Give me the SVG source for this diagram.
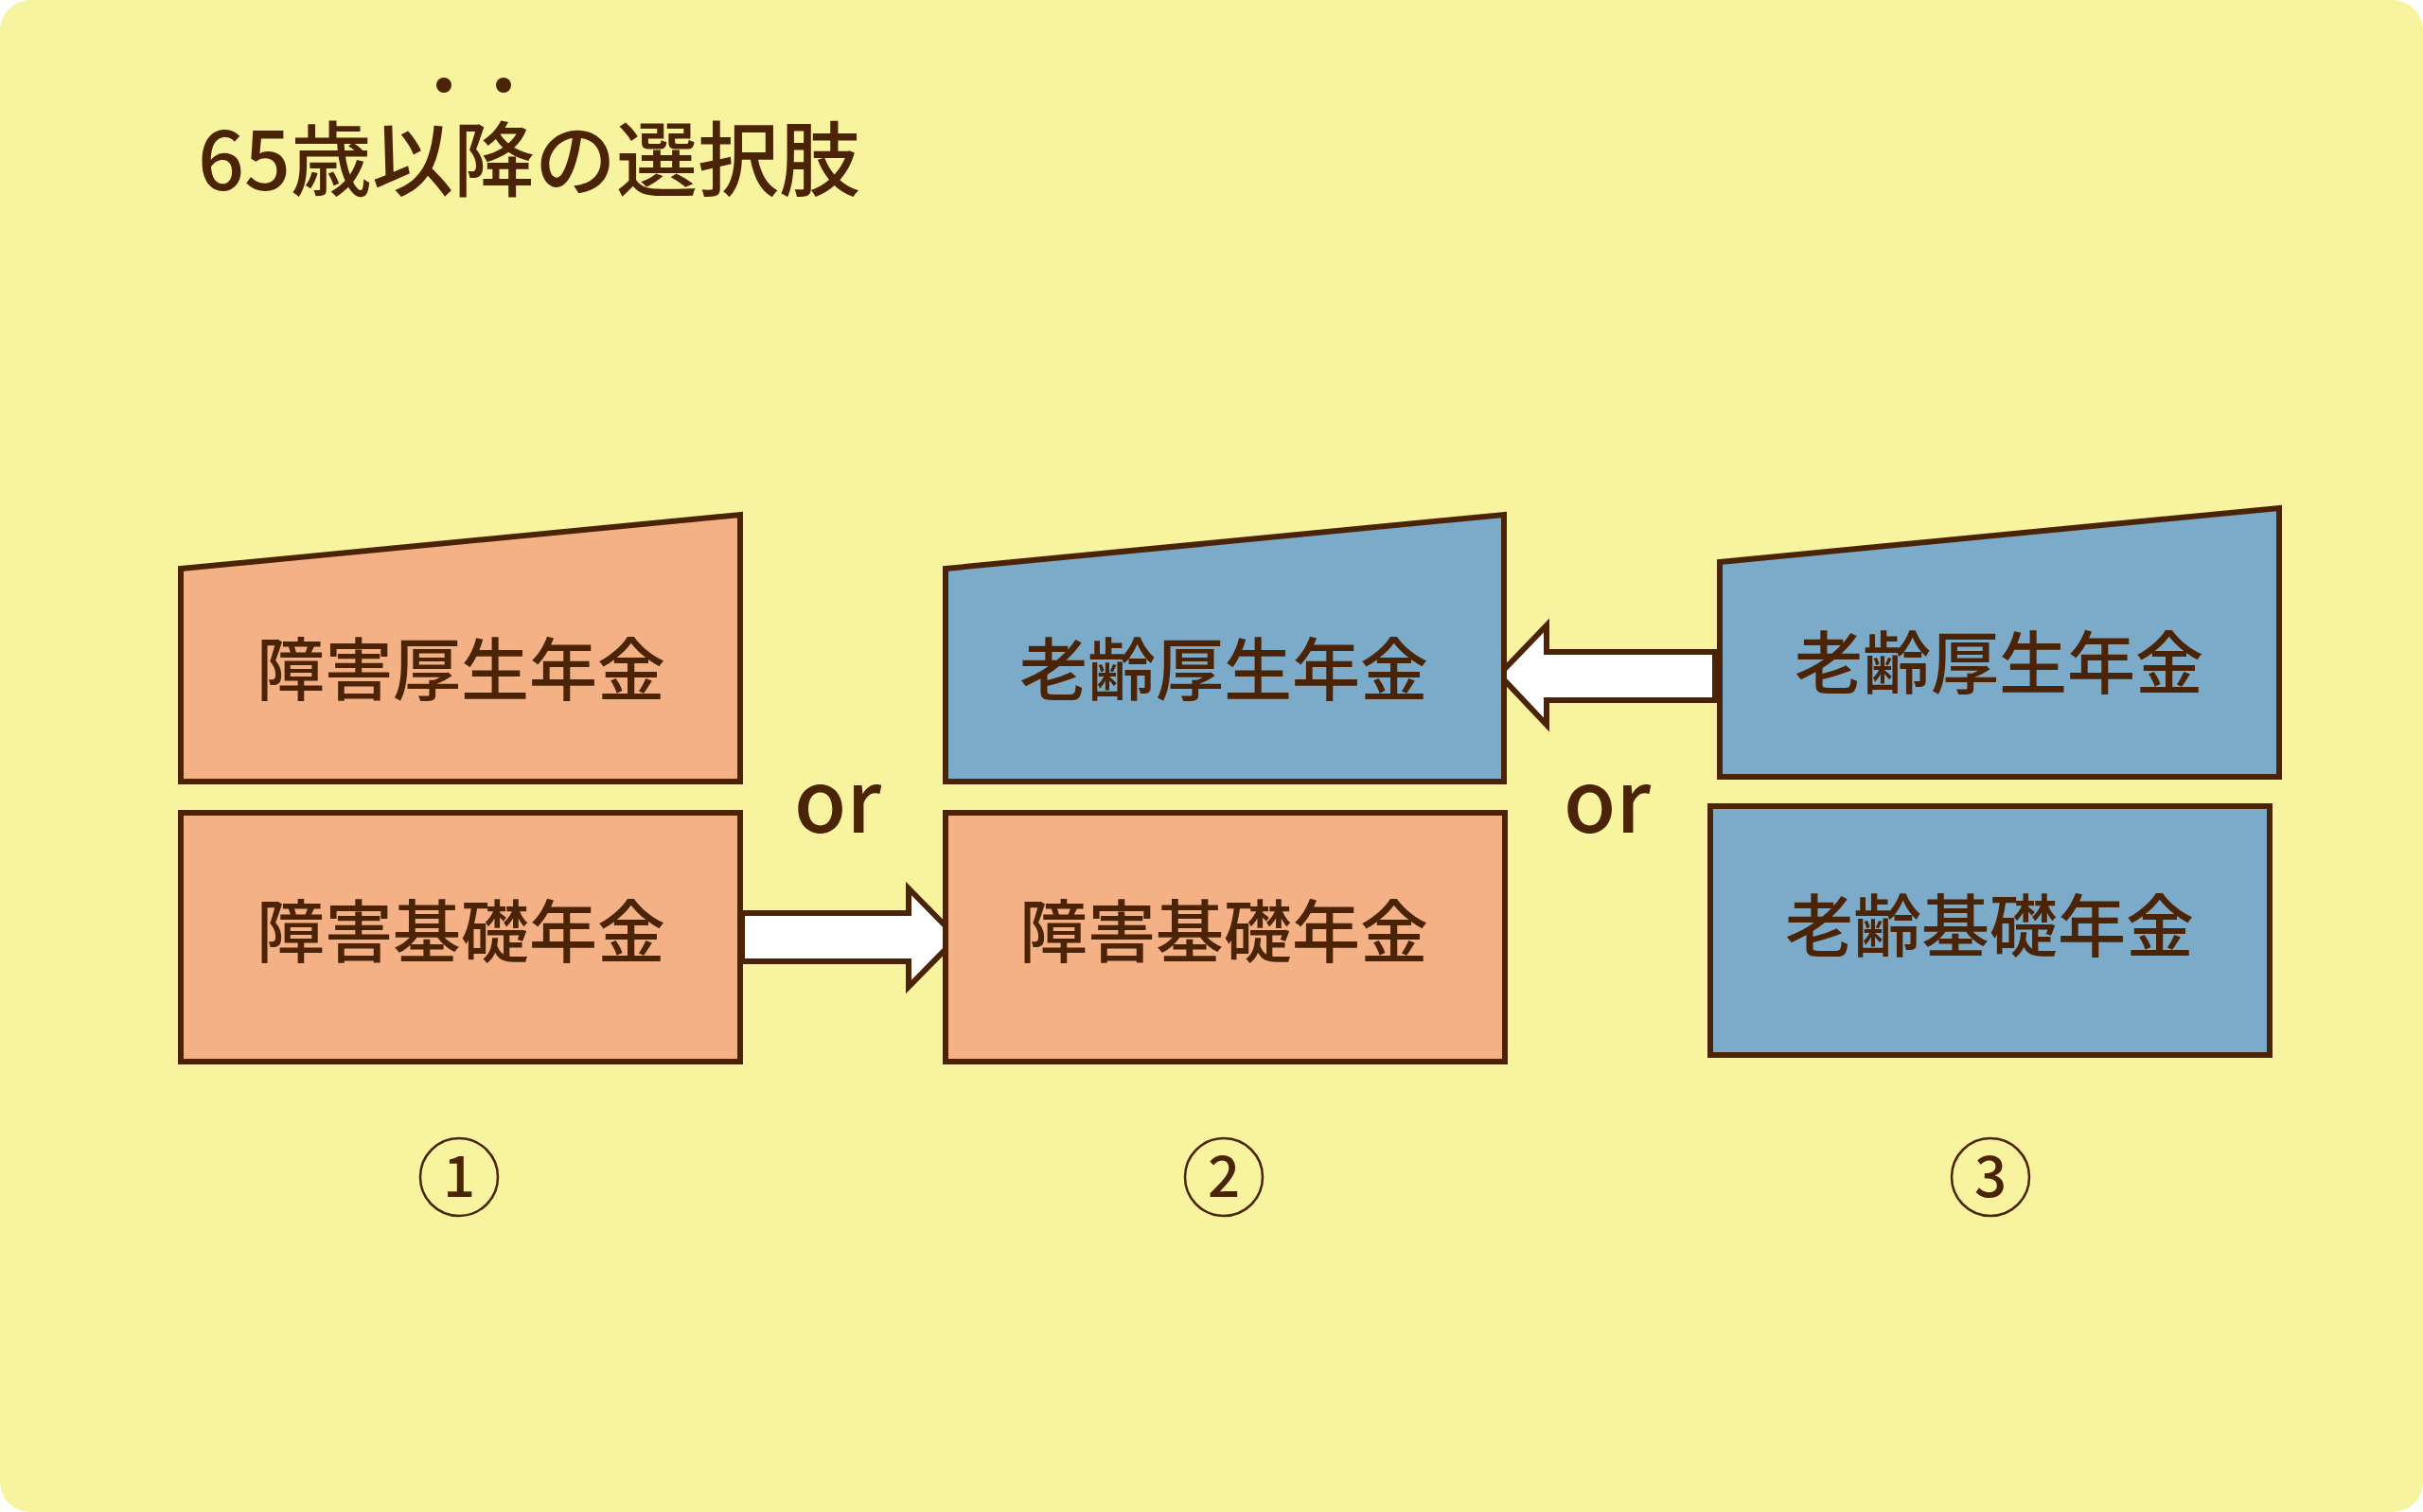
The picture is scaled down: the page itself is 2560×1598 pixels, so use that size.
<svg xmlns="http://www.w3.org/2000/svg" width="2560" height="1598" viewBox="0 0 2560 1598">
<style>
.bx{stroke:#4B2407;stroke-width:6}
.o{fill:#F4B186}.b{fill:#7BABC9}
.t{font-family:"Noto Sans CJK JP","Noto Sans",sans-serif;fill:#4B2407;font-weight:500}
.lb{font-size:72px;text-anchor:middle}
.ar{fill:#fff;stroke:#4B2407;stroke-width:6}
</style>
<rect x="0" y="0" width="2560" height="1598" rx="32" fill="#F8F39F"/>
<g id="title">
<text class="t" x="209" y="201" font-size="86">65歳以降の選択肢</text>
<circle cx="469" cy="90" r="8" fill="#4B2407"/><circle cx="532" cy="90" r="8" fill="#4B2407"/>
</g>
<g id="connectors">
<polygon class="ar" points="784,965 960,965 960,939 1011,991 960,1043 960,1016 784,1016"/>
<polygon class="ar" points="1812,689 1634,689 1634,661 1584,713 1634,766 1634,740 1812,740"/>
</g>
<g id="n1a"><polygon class="bx o" points="191,601 782,544 782,826 191,826"/><text class="t lb" x="487" y="734">障害厚生年金</text></g>
<g id="n1b"><rect class="bx o" x="191" y="859" width="591" height="263"/><text class="t lb" x="487" y="1011">障害基礎年金</text></g>
<g id="n2a"><polygon class="bx b" points="999,601 1589,544 1589,826 999,826"/><text class="t lb" x="1293" y="734">老齢厚生年金</text></g>
<g id="n2b"><rect class="bx o" x="999" y="859" width="591" height="263"/><text class="t lb" x="1293" y="1011">障害基礎年金</text></g>
<g id="n3a"><polygon class="bx b" points="1817,594 2408,537 2408,821 1817,821"/><text class="t lb" x="2112" y="727">老齢厚生年金</text></g>
<g id="n3b"><rect class="bx b" x="1807" y="852" width="591" height="263"/><text class="t lb" x="2102" y="1005">老齢基礎年金</text></g>
<text class="t" x="885" y="880" font-size="90" text-anchor="middle">or</text>
<text class="t" x="1698" y="880" font-size="90" text-anchor="middle">or</text>
<g id="num">
<circle cx="485" cy="1244" r="41" fill="none" stroke="#4B2407" stroke-width="2.5"/>
<circle cx="1293" cy="1244" r="41" fill="none" stroke="#4B2407" stroke-width="2.5"/>
<circle cx="2103" cy="1244" r="41" fill="none" stroke="#4B2407" stroke-width="2.5"/>
<text class="t" x="485" y="1265" font-size="60" text-anchor="middle">1</text>
<text class="t" x="1293" y="1265" font-size="60" text-anchor="middle">2</text>
<text class="t" x="2103" y="1265" font-size="60" text-anchor="middle">3</text>
</g>
</svg>
